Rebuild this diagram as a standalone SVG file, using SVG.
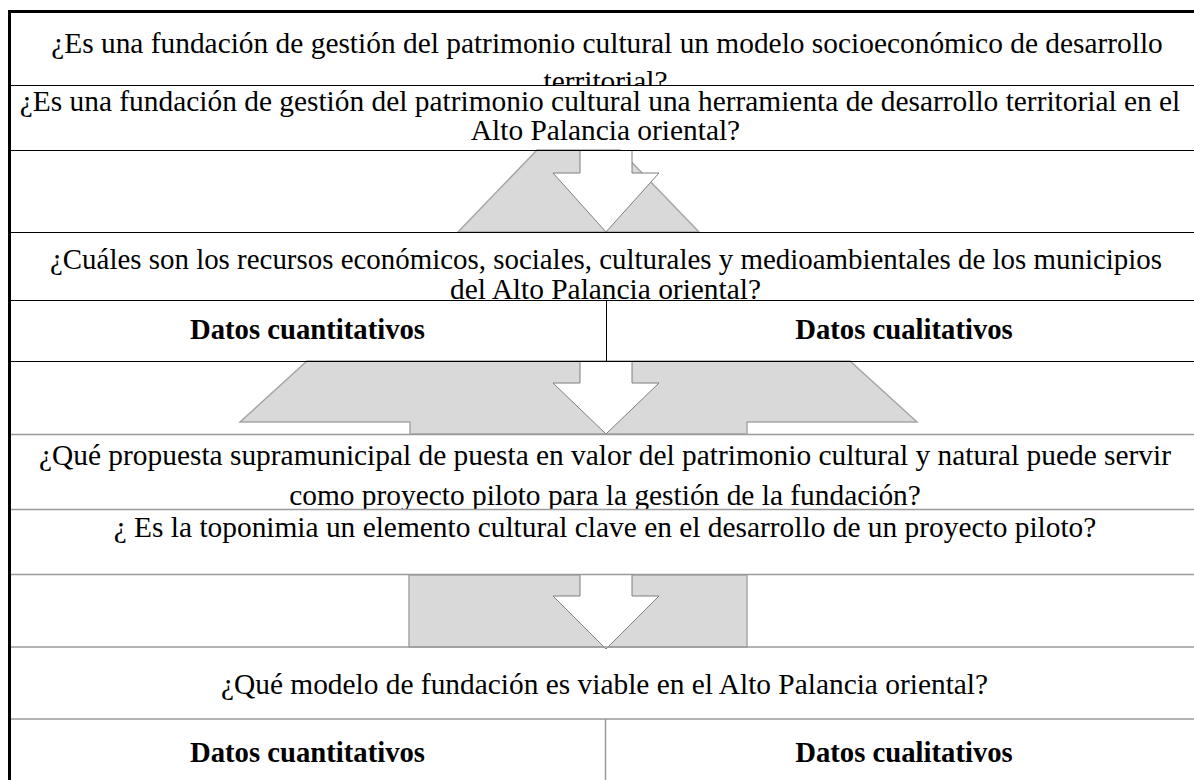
<svg xmlns="http://www.w3.org/2000/svg" width="1194" height="780" viewBox="0 0 1194 780">
<style>
.t{font-family:"Liberation Serif","Times New Roman",serif;font-size:29.4px;fill:#000;text-anchor:middle}
.b{font-weight:bold;font-size:28.7px}
.cell{fill:#fff;stroke:none}
.lk{stroke:#000;stroke-width:1;fill:none}
.lg{stroke:#9a9a9a;stroke-width:1.5;fill:none}
.band{fill:#d9d9d9;stroke:#a6a6a6;stroke-width:1.5;stroke-linejoin:miter}
.arr{fill:#fff;stroke:none}
.arrl{fill:none;stroke:#7f7f7f;stroke-width:1}
.frame{stroke:#000;stroke-width:3;fill:none}
</style>
<defs>
<clipPath id="c1"><rect x="9" y="11" width="1194" height="74"/></clipPath>
<clipPath id="c4"><rect x="9" y="232" width="1194" height="68"/></clipPath>
<clipPath id="c7"><rect x="9" y="434" width="1194" height="75"/></clipPath>
</defs>
<rect x="0" y="0" width="1194" height="780" fill="#fff"/>

<g id="row1">
<rect class="cell" x="9" y="11" width="1194" height="74"/>
<g clip-path="url(#c1)">
<text class="t" x="607" y="53">¿Es una fundación de gestión del patrimonio cultural un modelo socioeconómico de desarrollo</text>
<text class="t" x="605.5" y="91">territorial?</text>
</g>
</g>
<g id="row2">
<rect class="cell" x="9" y="85" width="1194" height="65"/>
<text class="t" x="600" y="111">¿Es una fundación de gestión del patrimonio cultural una herramienta de desarrollo territorial en el</text>
<text class="t" x="605.5" y="140">Alto Palancia oriental?</text>
</g>
<g id="band1">
<rect class="cell" x="9" y="150" width="1194" height="82"/>
</g>
<g id="row4">
<rect class="cell" x="9" y="232" width="1194" height="68"/>
<g clip-path="url(#c4)">
<text class="t" x="606" y="269" textLength="1112" lengthAdjust="spacingAndGlyphs">¿Cuáles son los recursos económicos, sociales, culturales y medioambientales de los municipios</text>
<text class="t" x="605.5" y="299">del Alto Palancia oriental?</text>
</g>
</g>
<g id="row5">
<rect class="cell" x="9" y="300" width="1194" height="61"/>
<text class="t b" x="307.5" y="339">Datos cuantitativos</text>
<text class="t b" x="904" y="339">Datos cualitativos</text>
</g>
<g id="band2">
<rect class="cell" x="9" y="361" width="1194" height="73"/>
</g>
<g id="row7">
<rect class="cell" x="9" y="434" width="1194" height="75"/>
<g clip-path="url(#c7)">
<text class="t" x="605" y="465">¿Qué propuesta supramunicipal de puesta en valor del patrimonio cultural y natural puede servir</text>
<text class="t" x="605" y="505">como proyecto piloto para la gestión de la fundación?</text>
</g>
</g>
<g id="row8">
<rect class="cell" x="9" y="509" width="1194" height="65"/>
<text class="t" x="605" y="537">¿ Es la toponimia un elemento cultural clave en el desarrollo de un proyecto piloto?</text>
</g>
<g id="band3">
<rect class="cell" x="9" y="574" width="1194" height="73"/>
</g>
<g id="row10">
<rect class="cell" x="9" y="647" width="1194" height="72"/>
<text class="t" x="604.5" y="694">¿Qué modelo de fundación es viable en el Alto Palancia oriental?</text>
</g>
<g id="row11">
<rect class="cell" x="9" y="719" width="1194" height="61"/>
<text class="t b" x="307.5" y="762">Datos cuantitativos</text>
<text class="t b" x="904" y="762">Datos cualitativos</text>
</g>

<g id="connectors">
<polygon class="band" points="537,150 620,150 699,232 458,232"/>
<polygon class="arr" points="580,150 632,150 632,173 659,173 606,232 553,173 580,173"/>
<polyline class="arrl" points="580,150 580,173 553,173 606,232 659,173 632,173 632,150"/>

<polygon class="band" points="307,361 850,361 917,422 747,422 747,434 410,434 410,422 240,422"/>
<polygon class="arr" points="580,361 632,361 632,383 659,383 606,434 553,383 580,383"/>
<polyline class="arrl" points="580,361 580,383 553,383 606,434 659,383 632,383 632,361"/>

<rect class="band" x="409" y="575" width="338" height="72"/>
<polygon class="arr" points="580,575 632,575 632,596 659,596 606,649 553,596 580,596"/>
<polyline class="arrl" points="580,575 580,596 553,596 606,649 659,596 632,596 632,575"/>
</g>

<g id="lines">
<line class="lk" x1="9" y1="85.5" x2="1194" y2="85.5"/>
<line class="lk" x1="9" y1="150.5" x2="1194" y2="150.5"/>
<line class="lk" x1="9" y1="232.5" x2="1194" y2="232.5"/>
<line class="lk" x1="9" y1="300.5" x2="1194" y2="300.5"/>
<line class="lk" x1="606.5" y1="300" x2="606.5" y2="361"/>
<line class="lk" x1="9" y1="361.5" x2="1194" y2="361.5"/>
<line class="lg" x1="9" y1="434.5" x2="1194" y2="434.5"/>
<line class="lg" x1="9" y1="509.5" x2="1194" y2="509.5"/>
<line class="lg" x1="9" y1="574.5" x2="1194" y2="574.5"/>
<line class="lg" x1="9" y1="647" x2="1194" y2="647"/>
<line class="lg" x1="9" y1="719" x2="1194" y2="719"/>
<line class="lg" x1="605.5" y1="719" x2="605.5" y2="780"/>
</g>

<g id="frame">
<line class="frame" x1="9.5" y1="10" x2="9.5" y2="780"/>
<line class="frame" x1="8" y1="11.5" x2="1194" y2="11.5"/>
</g>
</svg>
